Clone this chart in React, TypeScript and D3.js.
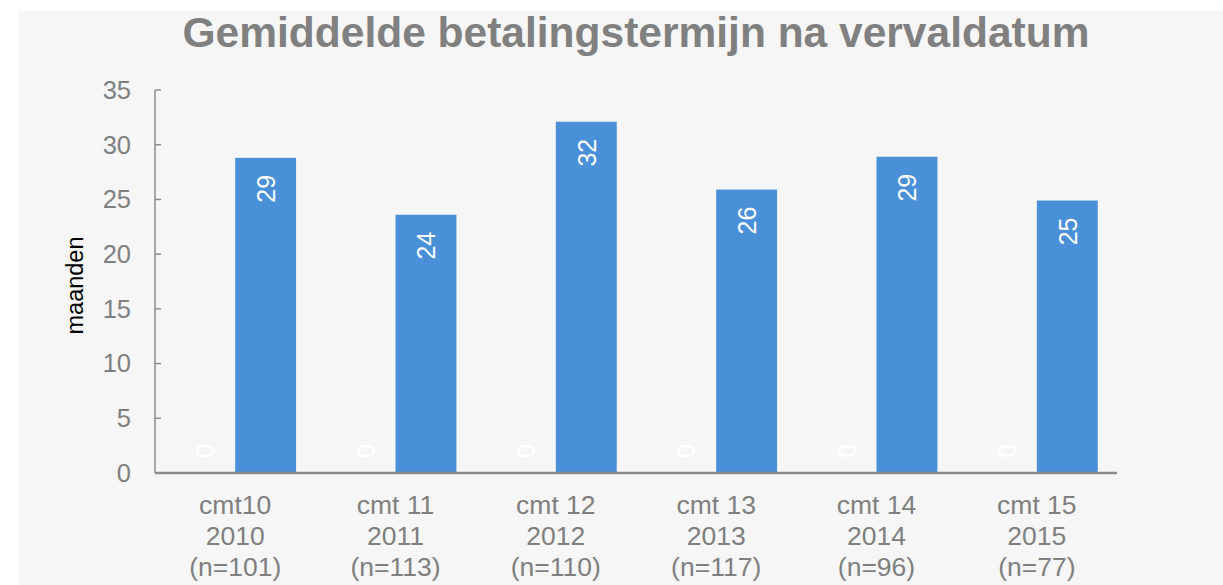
import React from "react";
import * as d3 from "d3";

const categories = [
  ["cmt10", "2010", "(n=101)"],
  ["cmt 11", "2011", "(n=113)"],
  ["cmt 12", "2012", "(n=110)"],
  ["cmt 13", "2013", "(n=117)"],
  ["cmt 14", "2014", "(n=96)"],
  ["cmt 15", "2015", "(n=77)"],
];
const zeroSeries = [0, 0, 0, 0, 0, 0];
const valueSeries = [28.8, 23.6, 32.1, 25.9, 28.9, 24.9];
const valueLabels = ["29", "24", "32", "26", "29", "25"];
const yTicks = [0, 5, 10, 15, 20, 25, 30, 35];

const W = 1223;
const H = 585;
const FONT = "'Liberation Sans', Arial, Helvetica, sans-serif";

export default function App() {
  const left = 155;
  const right = 1117;
  const top = 90;
  const bottom = 473;
  const x = d3
    .scaleBand<number>()
    .domain(categories.map((_, i) => i))
    .range([left, right])
    .paddingInner(0.24)
    .paddingOuter(0.12);
  const sub = d3.scaleBand<string>().domain(["zero", "value"]).range([0, x.bandwidth()]).padding(0);
  const y = d3.scaleLinear().domain([0, 35]).range([bottom, top]);

  return (
    <svg width={W} height={H} style={{ position: "absolute", left: 0, top: 0 }} fontFamily={FONT}>
      <rect x={0} y={0} width={W} height={H} fill="#ffffff" />
      <rect x={19} y={11} width={W - 19} height={H - 11} fill="#f6f6f6" />
      <text x={636} y={47} textAnchor="middle" fontSize={42.5} fontWeight="bold" fill="#808080">
        Gemiddelde betalingstermijn na vervaldatum
      </text>
      {/* y axis */}
      <line x1={left} x2={left} y1={top} y2={bottom} stroke="#8c8c8c" strokeWidth={1.5} />
      {yTicks.map((t) => (
        <g key={t}>
          <line x1={left} x2={left + 6} y1={y(t)} y2={y(t)} stroke="#8c8c8c" strokeWidth={1.5} />
          <text x={131} y={y(t)} dy="0.35em" textAnchor="end" fontSize={25.5} fill="#7f7f7f">
            {t}
          </text>
        </g>
      ))}
      <text
        transform={`translate(83,${(top + bottom) / 2 + 4}) rotate(-90)`}
        textAnchor="middle"
        fontSize={23.5}
        fill="#000000"
      >
        maanden
      </text>
      {/* bars */}
      {categories.map((c, i) => {
        const gx = x(i)!;
        const zx = gx + sub("zero")! + sub.bandwidth() / 2;
        const vx = gx + sub("value")!;
        const vy = y(valueSeries[i]);
        return (
          <g key={i}>
            <rect x={gx + sub("zero")!} y={y(zeroSeries[i])} width={sub.bandwidth()} height={bottom - y(zeroSeries[i])} fill="#4a90d9" />
            <rect x={vx} y={vy} width={sub.bandwidth()} height={bottom - vy} fill="#4a90d9" />
            <text
              transform={`translate(${zx + 9.5},${y(zeroSeries[i]) - 22}) rotate(-90)`}
              textAnchor="middle"
              fontSize={25}
              fill="#ffffff"
            >
              {String(zeroSeries[i])}
            </text>
            <text
              transform={`translate(${vx + sub.bandwidth() / 2 + 9.5},${vy + 17}) rotate(-90)`}
              textAnchor="end"
              fontSize={25}
              fill="#ffffff"
            >
              {valueLabels[i]}
            </text>
            {c.map((line, k) => (
              <text key={k} x={gx + x.bandwidth() / 2} y={514 + k * 31} textAnchor="middle" fontSize={26.5} fill="#7f7f7f">
                {line}
              </text>
            ))}
          </g>
        );
      })}
      {/* x axis */}
      <line x1={left} x2={right} y1={bottom} y2={bottom} stroke="#8c8c8c" strokeWidth={2.5} />
    </svg>
  );
}
